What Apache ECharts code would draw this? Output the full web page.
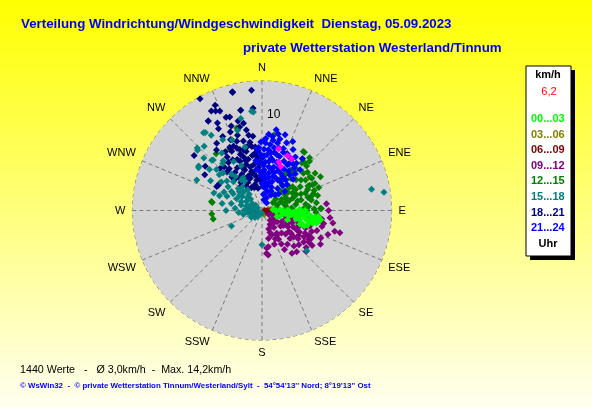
<!DOCTYPE html>
<html>
<head>
<meta charset="utf-8">
<title>Windverteilung</title>
<script src="https://cdn.jsdelivr.net/npm/echarts@6/dist/echarts.min.js"></script>
<style>
  html, body { margin: 0; padding: 0; }
  #chart { width: 592px; height: 407px; }
</style>
</head>
<body>
<div id="chart"></div>
<script>
// Richtungen (Winkelachse)
const dirNames = ['N', 'NNE', 'NE', 'ENE', 'E', 'ESE', 'SE', 'SSE', 'S', 'SSW', 'SW', 'WSW', 'W', 'WNW', 'NW', 'NNW'];
// beschriftete Ringe (km/h)
const ringLabels = [10];
// Zeitklassen
const hourLabels = ['00...03', '03...06', '06...09', '09...12', '12...15', '15...18', '18...21', '21...24'];

// Werte je Zeitklasse: [km/h, Richtung in Grad]
const h00_03 = [[1.2, 85], [1.6, 95], [2.0, 88], [2.4, 95], [2.7, 92], [2.9, 89], [3.1, 100], [3.3, 98], [3.5, 93], [3.7, 92],
  [3.9, 104], [4.1, 100], [4.4, 94], [4.6, 108], [4.9, 100], [5.2, 95], [5.4, 104], [5.6, 101], [5.9, 97], [6.2, 103],
  [6.4, 101], [6.3, 96], [4.8, 90], [3.0, 110], [2.2, 105], [5.0, 110], [1.8, 112], [4.2, 88],
  [1.5, 90], [2.3, 90], [2.6, 98], [3.2, 94], [3.6, 98], [4.0, 95], [4.3, 104], [4.7, 97], [5.1, 102], [5.5, 97],
  [5.8, 104], [6.0, 100], [6.6, 99], [5.3, 108], [4.5, 110]];
const h03_06 = [[0.4, 120], [0.7, 80], [0.5, 150], [0.9, 110]];
const h06_09 = [[0.3, 90], [0.6, 92], [0.9, 95], [1.2, 93], [1.5, 96], [1.8, 94], [0.4, 100], [1.0, 88]];
const h09_12 = [[9.0, 106], [8.4, 106], [7.4, 90], [7.2, 84], [7.0, 102], [6.9, 105], [6.3, 119], [5.8, 127], [6.7, 133], [6.1, 122],
  [5.4, 118], [4.9, 124], [4.4, 135], [4.4, 119], [4.3, 117], [4.8, 174], [4.1, 170], [5.0, 172], [4.2, 173], [3.2, 167],
  [3.2, 149], [3.3, 139], [3.2, 120], [3.0, 147], [3.1, 117], [2.5, 120], [2.1, 127], [1.5, 125], [1.2, 110], [2.0, 105],
  [2.8, 110], [3.6, 112], [3.8, 128], [4.6, 130], [5.2, 112], [5.6, 108], [6.0, 113], [6.5, 110], [5.3, 138], [6.0, 140],
  [6.4, 130], [3.5, 155], [2.6, 160], [1.8, 150], [0.9, 120], [4.0, 100], [3.0, 95], [5.0, 98], [6.2, 95], [7.6, 96],
  [4.7, 143], [5.6, 133],
  [1.4, 140], [1.9, 135], [2.3, 145], [2.7, 130], [2.9, 125], [3.4, 122], [3.7, 135], [3.9, 118], [4.1, 128], [4.5, 112],
  [4.8, 120], [5.1, 128], [5.5, 122], [5.9, 118], [6.3, 124], [2.2, 160], [2.9, 158], [3.7, 150], [4.3, 150], [4.0, 160],
  [5.0, 150], [5.8, 145], [6.8, 125], [7.2, 115], [7.8, 110], [2.5, 100], [3.5, 105], [4.2, 108], [5.4, 103], [1.7, 115],
  [6.7, 98], [8.0, 100], [7.5, 120]];
const h12_15 = [[8.1, 321], [5.6, 303], [5.6, 279], [5.5, 260], [9.6, 343], [8.5, 9], [8.0, 36], [7.1, 42], [6.2, 69], [6.0, 62],
  [8.0, 35], [6.6, 57], [6.6, 63], [6.5, 88], [5.7, 74], [5.5, 76], [6.6, 88], [5.7, 280], [5.6, 266], [7.7, 332],
  [2.0, 50], [2.5, 60], [3.0, 45], [3.2, 70], [3.5, 55], [4.0, 48], [4.2, 65], [4.5, 75], [4.8, 42], [5.0, 58],
  [5.2, 68], [5.5, 52], [5.8, 62], [3.8, 80], [2.8, 85], [1.8, 70], [2.2, 35], [3.6, 38], [6.2, 48], [6.0, 72],
  [4.6, 88], [3.4, 95], [5.0, 90], [1.5, 55], [2.6, 75], [4.0, 30], [5.4, 40], [6.5, 55], [7.0, 45], [3.0, 62],
  [4.4, 58], [5.6, 78], [6.1, 82],
  [2.3, 65], [2.7, 80], [3.1, 55], [3.3, 85], [3.7, 68], [3.9, 60], [4.1, 75], [4.3, 52], [4.7, 67], [4.9, 82],
  [5.1, 48], [5.3, 74], [5.6, 65], [5.9, 55], [6.3, 63], [6.6, 50], [6.9, 40], [7.3, 38], [7.6, 44], [7.9, 42],
  [2.9, 70], [3.5, 90], [4.0, 92], [4.5, 95], [5.2, 85], [5.8, 88], [6.0, 92], [1.7, 80], [2.0, 92], [6.4, 75],
  [7.2, 55], [7.5, 60], [6.8, 68], [5.5, 35], [6.0, 40], [4.8, 33], [3.8, 50]];
const h15_18 = [[13.7, 81.5], [12.4, 79], [3.8, 180], [3.8, 243], [6.7, 132], [10.7, 324], [9.8, 313], [8.5, 304], [6.8, 312], [7.9, 315],
  [5.0, 289], [4.7, 296], [2.2, 311], [3.6, 313], [1.4, 272], [11.0, 355], [9.3, 343], [11.1, 354], [10.5, 347], [10.8, 323],
  [10.1, 326], [10.0, 314], [7.8, 325], [8.5, 337], [8.7, 312], [8.6, 305], [7.8, 316], [6.0, 314], [5.7, 290], [4.5, 280],
  [4.0, 302], [1.5, 272], [2.5, 293], [4.5, 315], [0.5, 250], [0.8, 270], [1.0, 240], [1.2, 260], [0.6, 300], [0.9, 285],
  [1.1, 225], [0.4, 200], [1.3, 250], [1.6, 262], [0.7, 230], [3.0, 305], [3.4, 320], [5.3, 320], [6.3, 330], [7.0, 322],
  [5.5, 335], [4.2, 330], [2.8, 325], [6.6, 300], [9.0, 331], [7.3, 345], [9.6, 318], [0.3, 180], [1.8, 285], [2.0, 270],
  [8.0, 295],
  [1.0, 280], [1.5, 290], [2.0, 300], [2.4, 285], [2.7, 305], [3.1, 295], [3.3, 310], [3.7, 300], [4.2, 292], [4.6, 305],
  [5.1, 310], [1.8, 315], [2.3, 322], [2.9, 315], [0.9, 310], [1.3, 305], [1.7, 275], [2.1, 258], [2.6, 265], [3.0, 275],
  [3.5, 283], [4.0, 270], [0.6, 260], [1.1, 250], [1.4, 238], [0.8, 215], [5.5, 305], [6.2, 310], [6.8, 320], [7.4, 308],
  [4.8, 322], [4.1, 326], [3.8, 330]];
const h18_21 = [[14.2, 331], [13.5, 346], [13.4, 355], [12.8, 336], [12.4, 333], [12.0, 337], [11.6, 329], [10.9, 333], [11.0, 341], [11.4, 348],
  [11.4, 355], [10.3, 345], [9.9, 348], [9.1, 349], [8.5, 350], [9.7, 309], [8.0, 308], [8.4, 323], [9.0, 326], [7.7, 328],
  [7.9, 333], [7.2, 340], [6.5, 330], [7.3, 347], [6.3, 341], [7.2, 351], [6.4, 353], [5.6, 354], [5.0, 345], [4.9, 337],
  [4.2, 347], [3.4, 350], [5.6, 300], [5.8, 318], [3.8, 340], [4.5, 345], [5.2, 350], [5.8, 342], [6.0, 336], [4.0, 332],
  [3.0, 345], [5.5, 330], [6.8, 345], [6.2, 350], [4.8, 355], [3.5, 355], [2.5, 350], [4.4, 325], [3.6, 320], [5.0, 318],
  [6.5, 325], [7.5, 338], [8.0, 345], [8.8, 342], [2.8, 335], [6.0, 357], [13.6, 346], [12.2, 335], [11.6, 329], [11.4, 348],
  [11.1, 339], [10.3, 332], [7.5, 302], [5.7, 298], [6.6, 315],
  [3.5, 333], [4.1, 338], [4.6, 331], [5.1, 336], [5.4, 341], [5.9, 345], [6.3, 334], [6.7, 339], [7.0, 343], [7.4, 333],
  [7.8, 336], [8.2, 340], [3.9, 350], [4.4, 356], [5.3, 358], [6.1, 354], [6.7, 356], [7.1, 354], [7.7, 350], [8.3, 353],
  [3.2, 327], [3.9, 323], [4.6, 320], [5.2, 325], [5.9, 322], [6.4, 319], [7.1, 327], [4.2, 342], [2.7, 342], [3.3, 358],
  [8.6, 336], [9.4, 338], [9.6, 345], [10.0, 340], [9.3, 332]];
const h21_24 = [[9.1, 10], [7.9, 9], [8.0, 20], [6.9, 20], [6.7, 26], [6.5, 36], [5.9, 37], [7.5, 3], [7.0, 357], [8.5, 5],
  [8.2, 14], [7.2, 15], [6.6, 12], [6.2, 5], [5.8, 0], [5.5, 8], [5.0, 15], [4.8, 22], [4.5, 3], [4.2, 10],
  [4.0, 18], [3.8, 28], [3.5, 5], [3.2, 14], [3.0, 0], [2.8, 22], [2.5, 8], [2.2, 16], [2.0, 30], [1.8, 5],
  [1.5, 20], [1.2, 10], [6.0, 30], [5.2, 28], [4.4, 32], [3.6, 40], [5.5, 42], [7.0, 32], [6.3, 18], [5.3, 356],
  [4.6, 352], [3.9, 358], [6.8, 2], [7.6, 27], [4.9, 45], [3.3, 50], [2.6, 45], [1.0, 30], [5.7, 12], [6.0, 24],
  [7.8, 2], [7.4, 7], [7.1, 11], [6.8, 6], [6.5, 9], [6.4, 15], [6.1, 2], [5.9, 10], [5.6, 17], [5.4, 4],
  [5.1, 21], [4.9, 9], [4.7, 13], [4.4, 18], [4.1, 5], [3.9, 24], [3.7, 11], [3.4, 19], [3.1, 7], [2.9, 12],
  [2.7, 2], [2.4, 25], [7.7, 13], [7.3, 19], [6.9, 24], [6.6, 30], [6.2, 34], [5.8, 29], [5.3, 34], [4.6, 27],
  [4.3, 38], [3.8, 33], [8.3, 8], [8.7, 12], [8.0, 3], [7.6, 359], [6.9, 355], [6.3, 358], [5.6, 353], [5.0, 2],
  [4.3, 358], [3.6, 2], [8.8, 17], [8.4, 24], [7.3, 38], [6.2, 43], [5.0, 38], [4.0, 44], [3.0, 35], [2.3, 40]];
// letzte Werte (magenta)
const recent = [[7.1, 15], [6.7, 25], [6.6, 30], [5.7, 19], [5.3, 23]];

const currentSpeed = '6,2';
const footerStats = '1440 Werte   -   Ø 3,0km/h  -  Max. 14,2km/h';
const footerCopy = "© WsWin32  -  © private Wetterstation Tinnum/Westerland/Sylt  -  54°54'13'' Nord; 8°19'13'' Ost";

const hourColors = ['#00ff00', '#808000', '#800000', '#800080', '#008000', '#008080', '#000080', '#0000ff'];
const hourData = [h00_03, h03_06, h06_09, h09_12, h12_15, h15_18, h18_21, h21_24];
// Zeichenreihenfolge
const drawOrder = [1, 2, 3, 4, 6, 5, 0, 7];

const FONT = 'Arial, Liberation Sans, sans-serif';

document.addEventListener('DOMContentLoaded', function() {
  const chart = echarts.init(document.getElementById('chart'));

  const series = drawOrder.map(i => ({
    name: hourLabels[i],
    type: 'scatter',
    coordinateSystem: 'polar',
    symbol: 'diamond',
    symbolSize: 7,
    itemStyle: { color: hourColors[i], opacity: 1 },
    data: hourData[i]
  }));
  series.push({
    name: 'aktuell',
    type: 'scatter',
    coordinateSystem: 'polar',
    symbol: 'diamond',
    symbolSize: 7,
    itemStyle: { color: '#ff00ff', opacity: 1 },
    data: recent
  });

  const dashed = { color: '#7a7a7a', type: [4, 3], width: 1 };

  chart.setOption({
    animation: false,
    backgroundColor: {
      type: 'linear', x: 0, y: 0, x2: 0, y2: 1,
      colorStops: [{ offset: 0, color: '#ffff00' }, { offset: 1, color: '#fffff0' }]
    },
    title: [
      {
        text: 'Verteilung Windrichtung/Windgeschwindigkeit  Dienstag, 05.09.2023',
        left: 21, top: 18, padding: 0,
        textStyle: { color: '#0000ff', fontSize: 13.3, fontWeight: 'bold', fontFamily: FONT }
      },
      {
        text: 'private Wetterstation Westerland/Tinnum',
        left: 243, top: 42, padding: 0,
        textStyle: { color: '#0000ff', fontSize: 13.3, fontWeight: 'bold', fontFamily: FONT }
      }
    ],
    polar: { center: [262, 210.5], radius: 129.6 },
    angleAxis: {
      type: 'value',
      min: 0, max: 360, interval: 22.5,
      startAngle: 90, clockwise: true,
      axisLine: { show: false },
      axisTick: { show: false },
      axisLabel: {
        margin: 7, color: '#000', fontSize: 11, fontFamily: FONT,
        formatter: v => v >= 360 ? '' : dirNames[Math.round(v / 22.5) % 16]
      },
      splitLine: { show: true, lineStyle: dashed }
    },
    radiusAxis: {
      type: 'value',
      min: 0, max: 14.4, interval: 5,
      axisLine: { show: false },
      axisTick: { show: false },
      axisLabel: {
        margin: -5, align: 'left', verticalAlign: 'bottom',
        color: '#000', fontSize: 12, fontFamily: FONT,
        formatter: v => ringLabels.includes(v) ? String(v) : ''
      },
      splitLine: { show: true, showMaxLine: false, lineStyle: dashed },
      splitArea: { show: true, areaStyle: { color: ['#d4d4d4'] } }
    },
    legend: {
      data: hourLabels.map((n, i) => ({ name: n, textStyle: { color: hourColors[i] } })),
      orient: 'vertical',
      left: 526, top: 112, padding: 0,
      itemWidth: 0, itemHeight: 14, itemGap: 3.1,
      icon: 'none',
      selectedMode: false,
      textStyle: { fontSize: 11, fontWeight: 'bold', fontFamily: FONT }
    },
    graphic: [
      { type: 'rect', shape: { x: 530, y: 70, width: 45, height: 190 }, style: { fill: '#000' }, z: -1 },
      { type: 'rect', shape: { x: 526, y: 66, width: 45, height: 190 }, style: { fill: '#fff', stroke: '#000', lineWidth: 1 }, z: -1 },
      { type: 'text', x: 548, y: 75, style: { text: 'km/h', fill: '#000', font: 'bold 11px ' + FONT, align: 'center', verticalAlign: 'middle' } },
      { type: 'text', x: 549, y: 92, style: { text: currentSpeed, fill: '#ff0000', font: '11px ' + FONT, align: 'center', verticalAlign: 'middle' } },
      { type: 'text', x: 548, y: 244, style: { text: 'Uhr', fill: '#000', font: 'bold 11px ' + FONT, align: 'center', verticalAlign: 'middle' } },
      { type: 'text', x: 20, y: 370, style: { text: footerStats, fill: '#000', font: '10.7px ' + FONT, verticalAlign: 'middle' } },
      { type: 'text', x: 20, y: 386, style: { text: footerCopy, fill: '#0000ff', font: 'bold 7.9px ' + FONT, verticalAlign: 'middle' } }
    ],
    series: series
  });
});
</script>
</body>
</html>
